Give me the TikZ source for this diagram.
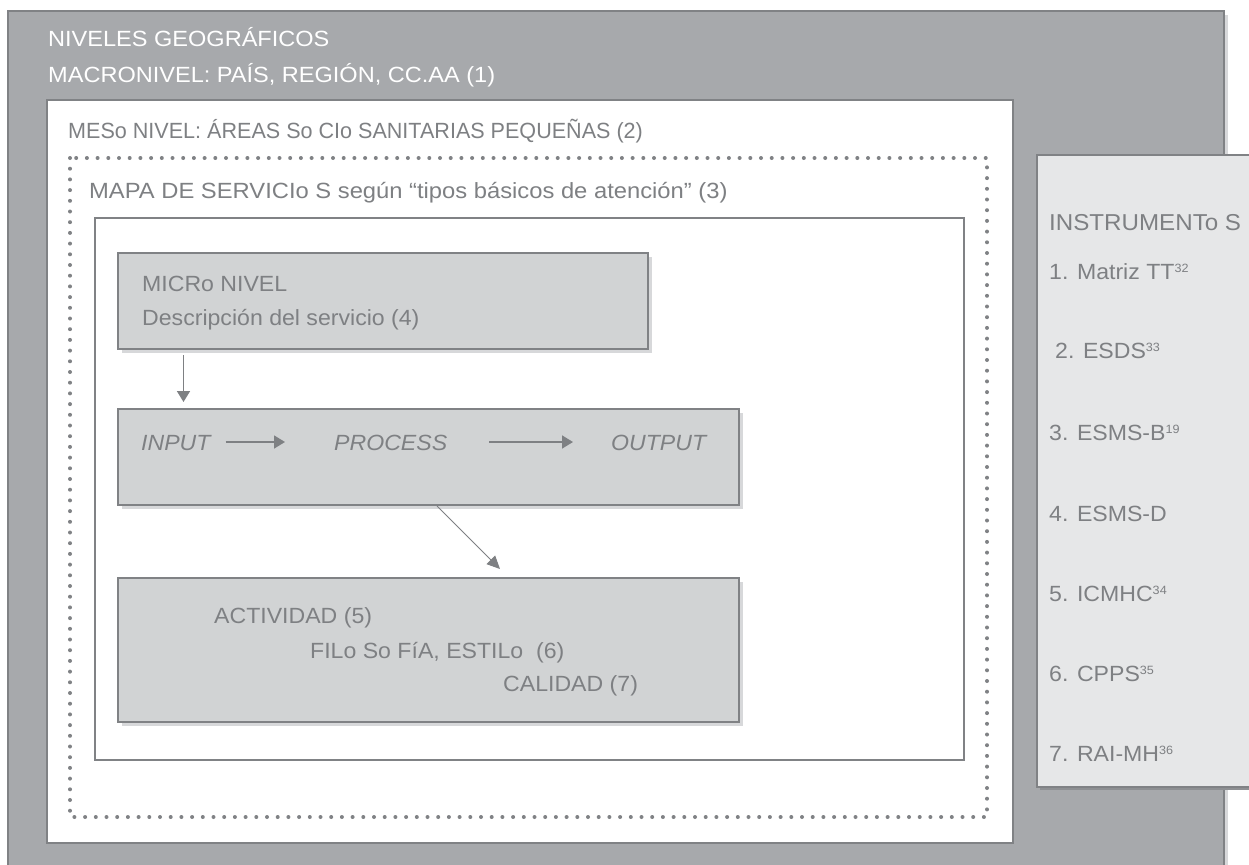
\documentclass[tikz,border=0pt]{standalone}
\usepackage{fontspec}
\setmainfont{Liberation Sans}
\newfontfamily\labelfont[FakeStretch=1.05]{Liberation Sans}
\newfontfamily\narrowfont[FakeStretch=0.98]{Liberation Sans}
\newfontfamily\widefont[FakeStretch=1.08]{Liberation Sans}
\newfontfamily\headfont[FakeStretch=1.07]{Liberation Sans}
\usetikzlibrary{arrows.meta}
\definecolor{frame}{HTML}{A7A9AC}
\definecolor{edge}{HTML}{808285}
\definecolor{boxfill}{HTML}{D1D3D4}
\definecolor{toolfill}{HTML}{E6E7E8}
\definecolor{lightshade}{HTML}{D7D8DA}
\definecolor{darkshade}{HTML}{8E9093}
\definecolor{ink}{HTML}{7E8083}
\newcommand{\supr}[1]{\raisebox{6.5pt}{\fontsize{12}{12}\selectfont #1}}
\tikzset{
  panel/.style={draw=edge, line width=2pt, inner sep=0pt, anchor=north west},
  lshadow/.style={preaction={fill=lightshade, transform canvas={shift={(4pt,-4pt)}}}},
  dshadow/.style={preaction={fill=darkshade, transform canvas={shift={(3pt,-3pt)}}}},
  graybox/.style={panel, fill=boxfill, lshadow},
  label/.style={anchor=base west, inner sep=0pt, text=ink, font=\labelfont\fontsize{22}{26}\selectfont},
  itlabel/.style={label, font=\labelfont\fontsize{22}{26}\selectfont\itshape},
  head/.style={anchor=base west, inner sep=0pt, text=white, font=\headfont\fontsize{22}{26}\selectfont},
  flow/.style={draw=ink, line width=1.6pt, -{Triangle[length=11pt, width=13pt]}},
  dots/.style={draw=edge, line width=4pt, line cap=round, dash pattern=on 0pt off 10.7pt}
}
\begin{document}
\begin{tikzpicture}[x=1pt, y=-1pt]
\useasboundingbox (0,0) rectangle (1249,864);
\clip (0,0) rectangle (1249,864);

% geographic levels: outer band
\node[panel, fill=frame, lshadow, minimum width=1216pt, minimum height=880pt] (macro) at (7,10) {};
\node[head] (t1) at (48,47) {NIVELES GEOGRÁFICOS};
\node[head] (t2) at (48,83) {MACRONIVEL: PAÍS, REGIÓN, CC.AA (1)};

% meso level
\node[panel, fill=white, minimum width=966pt, minimum height=743pt] (meso) at (46,99) {};
\node[label, font=\narrowfont\fontsize{22}{26}\selectfont] (t3) at (68,139) {MESo NIVEL: ÁREAS So CIo SANITARIAS PEQUEÑAS (2)};

% service map (dotted frame)
\draw[dots] (70,158) rectangle (987,817);
\node[label, font=\widefont\fontsize{22}{26}\selectfont] (t4) at (89,198) {MAPA DE SERVICIo S según “tipos básicos de atención” (3)};

\node[panel, fill=white, minimum width=869pt, minimum height=542pt] (map) at (94,217) {};

% micro level
\node[graybox, minimum width=530pt, minimum height=96pt] (micro) at (117,252) {};
\node[label] (t5) at (142,291) {MICRo NIVEL};
\node[label] (t6) at (142,325) {Descripción del servicio (4)};

% input / process / output
\node[graybox, minimum width=621pt, minimum height=96pt] (inp) at (117,408) {};
\node[itlabel] (in) at (141,450) {INPUT};
\node[itlabel] (proc) at (334,450) {PROCESS};
\node[itlabel] (out) at (611,450) {OUTPUT};
\draw[flow] ([xshift=15pt, yshift=8pt]in.base east) -- ([xshift=-49pt, yshift=8pt]proc.base west);
\draw[flow] ([xshift=42pt, yshift=8pt]proc.base east) -- ([xshift=-38pt, yshift=8pt]out.base west);

% activity, philosophy, quality
\node[graybox, minimum width=621pt, minimum height=144pt] (act) at (117,577) {};
\node[label] (t7) at (214,623) {ACTIVIDAD (5)};
\node[label] (t8) at (310,658) {FILo So FíA, ESTILo~~(6)};
\node[label] (t9) at (503,691) {CALIDAD (7)};

% connectors between levels
\coordinate (down1) at (183.5,0 |- micro.south);
\coordinate (down2) at (183.5,0 |- inp.north);
\draw[flow] ([yshift=-5pt]down1) -- ([yshift=6pt]down2);
\coordinate (diag1) at (437,0 |- inp.south);
\coordinate (diag2) at (500,0 |- act.north);
\draw[draw=ink, line width=1pt, -{Triangle[length=13pt, width=12pt]}] (diag1) -- ([yshift=8pt]diag2);

% instruments
\node[panel, fill=toolfill, dshadow, minimum width=240pt, minimum height=632pt] (tools) at (1036,154) {};
\node[label, font=\labelfont\fontsize{23}{26}\selectfont] (i0) at (1049,230) {INSTRUMENTo S};
\node[label] (i1) at (1049,279) {1. Matriz TT\supr{32}};
\node[label] (i2) at (1055,358) {2. ESDS\supr{33}};
\node[label] (i3) at (1049,440) {3. ESMS-B\supr{19}};
\node[label] (i4) at (1049,521) {4. ESMS-D};
\node[label] (i5) at (1049,601) {5. ICMHC\supr{34}};
\node[label] (i6) at (1049,681) {6. CPPS\supr{35}};
\node[label] (i7) at (1049,761) {7. RAI-MH\supr{36}};
\end{tikzpicture}
\end{document}
